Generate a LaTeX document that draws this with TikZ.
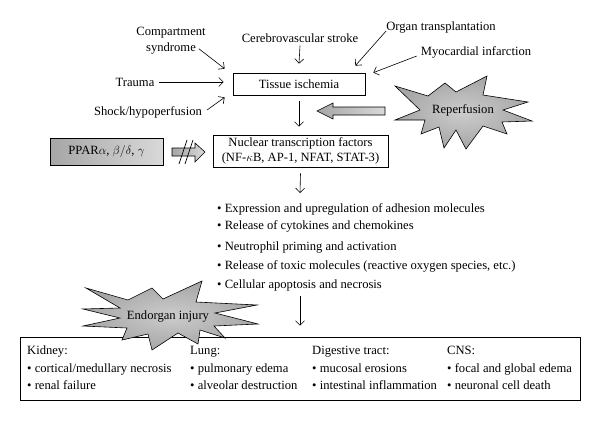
\documentclass[tikz,border=0pt]{standalone}
\usepackage{fontspec}
\setmainfont{Liberation Serif}
\usetikzlibrary{arrows.meta,calc}
\begin{document}
\begin{tikzpicture}[x=1pt,y=-1pt,
  font=\fontsize{12.6}{15}\selectfont,
  lbl/.style={inner sep=0pt, align=center},
  arr/.style={-{Straight Barb[length=4.5pt,width=9pt]}, line width=0.6pt},
  boxed/.style={draw, line width=0.7pt, inner sep=0pt, align=center},
  starfill/.style={draw, line width=0.6pt, inner color=gray!40, outer color=gray!70},
  fatarrow/.style={draw, line width=0.6pt, left color=gray!70, right color=gray!30},
  bul/.style={inner sep=0pt, anchor=base west}]
\useasboundingbox (0,0) rectangle (600,421);

% ---- top inputs
\node[lbl] (comp) at (171,41) {Compartment\\[1pt]syndrome};
\node[lbl] (trauma) at (135,82) {Trauma};
\node[lbl] (shock) at (148,112) {Shock/hypoperfusion};
\node[lbl] (cereb) at (300,38) {Cerebrovascular stroke};
\node[lbl] (organ) at (441,27) {Organ transplantation};
\node[lbl] (myo) at (476,52) {Myocardial infarction};

\node[boxed, minimum width=132pt, minimum height=22pt] (tissue) at (299,84) {Tissue ischemia};

\draw[arr] ([shift={(-7pt,6pt)}]comp.south east) -- ([shift={(-8pt,4pt)}]tissue.north west);
\draw[arr] ([xshift=4pt]trauma.east) -- ([xshift=-9pt]tissue.west |- trauma.east);
\draw[arr] ([shift={(5pt,2pt)}]shock.east) -- ([shift={(-8pt,-2pt)}]tissue.south west);
\draw[arr] ([yshift=-3pt]cereb.south) -- ([yshift=9pt]tissue.north);
\draw[arr] ([shift={(0pt,2pt)}]organ.south west) -- ([shift={(-10pt,7pt)}]tissue.north east);
\draw[arr] ([shift={(-4pt,2pt)}]myo.south west) -- ([shift={(8pt,0pt)}]tissue.north east);

% ---- nuclear factors
\node[boxed, minimum width=175pt, minimum height=32pt] (nuc) at (300.5,151)
  {Nuclear transcription factors\\[0pt](NF-$\kappa$B, AP-1, NFAT, STAT-3)};
\draw[arr] ([yshift=-6pt]tissue.south) -- ([yshift=8pt]tissue.south |- nuc.north);

% ---- reperfusion star
\draw[starfill] plot coordinates {(395,86) (428,96) (445,83) (456,92) (487,76) (483,95)
  (528,102) (503,110) (532,121) (502,122) (507,134) (483,126) (466,149) (456,130)
  (444,148) (439,127) (421,134) (425,120) (395,120) (420,110)} -- cycle;
\node[lbl] (rep) at (463,110) {Reperfusion};
\draw[fatarrow] (385,107) -- (333,107) -- (333,103) -- (317,111) -- (333,119) -- (333,115) -- (385,115) -- cycle;

% ---- PPAR
\node[boxed, left color=gray!70, right color=gray!30, minimum width=113pt, minimum height=27pt] (ppar) at (106.5,151.5)
  {PPAR$\alpha$, $\beta/\delta$, $\gamma$};
\draw[fatarrow] (172,148) -- (195,148) -- (195,143) -- (205,152) -- (195,162) -- (195,156) -- (172,156) -- cycle;
\draw[line width=0.7pt] (179,164) -- (187,140);
\draw[line width=0.7pt] (185,164) -- (193,140);

% ---- consequences
\coordinate (listtop) at (300,193);
\draw[arr] ([yshift=-6pt]nuc.south) -- (listtop);
\node[bul] (b1) at (217,212) {• Expression and upregulation of adhesion molecules};
\node[bul] (b2) at (217,229) {• Release of cytokines and chemokines};
\node[bul] (b3) at (217,250) {• Neutrophil priming and activation};
\node[bul] (b4) at (217,269) {• Release of toxic molecules (reactive oxygen species, etc.)};
\node[bul] (b5) at (217,288) {• Cellular apoptosis and necrosis};

% ---- organ box
\node[draw, line width=0.7pt, inner sep=0pt, minimum width=560pt, minimum height=63pt] (organs) at (300,368.5) {};
\coordinate (listbot) at (300,296);
\draw[arr] (listbot) -- ([yshift=11pt]listbot |- organs.north);

\node[bul] (k0) at (27,354) {Kidney:};
\node[bul] (k1) at (27,372) {• cortical/medullary necrosis};
\node[bul] (k2) at (27,389) {• renal failure};
\node[bul] (l1) at (190,372) {• pulmonary edema};
\node[bul] (l2) at (190,389) {• alveolar destruction};
\node[bul] (d0) at (312,354) {Digestive tract:};
\node[bul] (d1) at (312,372) {• mucosal erosions};
\node[bul] (d2) at (312,389) {• intestinal inflammation};
\node[bul] (c0) at (447,354) {CNS:};
\node[bul] (c1) at (447,372) {• focal and global edema};
\node[bul] (c2) at (447,389) {• neuronal cell death};

% ---- endorgan star (over the box)
\draw[starfill] plot coordinates {(86,288) (128,300) (152,288) (163,299) (202,281) (196,302)
  (257,305) (215,313) (258,324) (214,326) (225,338) (200,330) (198,344) (178,333)
  (152,350) (148,334) (122,340) (127,328) (83,326) (120,318) (83,309) (120,308)} -- cycle;
\node[lbl] (endo) at (168,316) {Endorgan injury};
\node[bul] (l0) at (190,354) {Lung:};
\end{tikzpicture}
\end{document}
